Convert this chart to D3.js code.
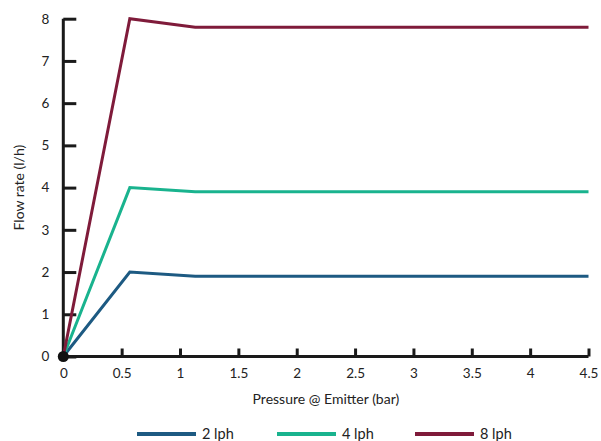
<!DOCTYPE html>
<html><head><meta charset="utf-8">
<script src="https://cdn.jsdelivr.net/npm/d3@7"></script>
<style>body{margin:0;background:#fff;} text{font-family:Lato,"Open Sans",sans-serif;fill:#222;}</style>
</head><body><svg id="c" width="601" height="441"></svg>
<script>
const pressure = [0, 0.57, 1.13, 4.5];
const series = [
  {name: "2 lph", values: [0, 2, 1.9, 1.9], color: "#1d5a82"},
  {name: "4 lph", values: [0, 4, 3.9, 3.9], color: "#19b38e"},
  {name: "8 lph", values: [0, 8, 7.8, 7.8], color: "#7f1b3a"}
];
const xTicks = [0, 0.5, 1, 1.5, 2, 2.5, 3, 3.5, 4, 4.5];
const yTicks = [0, 1, 2, 3, 4, 5, 6, 7, 8];

const svg = d3.select("#c");
const x = d3.scaleLinear().domain([0, 4.5]).range([63.3, 588.5]);
const y = d3.scaleLinear().domain([0, 8]).range([356.5, 18.7]);

const xa = svg.append("g").attr("transform", `translate(0,${y(0)})`)
  .call(d3.axisBottom(x).tickValues(xTicks).tickFormat(d => d).tickSizeInner(-8).tickSizeOuter(0).tickPadding(17));
const ya = svg.append("g").attr("transform", `translate(${x(0)},0)`)
  .call(d3.axisLeft(y).tickValues(yTicks).tickFormat(d => d).tickSizeInner(-13).tickSizeOuter(0).tickPadding(14));
[xa, ya].forEach(a => {
  a.select(".domain").attr("stroke", "#1a1a1a").attr("stroke-width", 3);
  a.selectAll(".tick line").attr("stroke", "#1a1a1a").attr("stroke-width", 3);
  a.selectAll(".tick text").attr("font-size", 13.5).attr("fill", "#222").style("font-family", "Lato, 'Open Sans', sans-serif");
});
xa.select(".domain").attr("d", `M${x(0)},0H${x(4.5)}`);
ya.select(".domain").attr("d", `M0,${y(0)}V${y(8)}`);
xa.selectAll(".tick text").attr("dy", "0.32em").attr("y", 17);

const line = d3.line().x((d, i) => x(pressure[i])).y(d => y(d));
series.forEach(s => {
  svg.append("path").datum(s.values).attr("d", line).attr("fill", "none")
    .attr("stroke", s.color).attr("stroke-width", 3).attr("stroke-linejoin", "miter");
});
svg.append("circle").attr("cx", x(0)).attr("cy", y(0)).attr("r", 5.5).attr("fill", "#111");

svg.append("text").attr("x", (x(0) + x(4.5)) / 2).attr("y", 404).attr("text-anchor", "middle")
  .attr("font-size", 14).text("Pressure @ Emitter (bar)");
svg.append("text").attr("transform", `translate(24,${y(4)}) rotate(-90)`).attr("text-anchor", "middle")
  .attr("font-size", 14).text("Flow rate (l/h)");

const legX = [137, 277, 415];
series.forEach((s, i) => {
  const g = svg.append("g").attr("transform", `translate(${legX[i]},434)`);
  g.append("line").attr("x1", 0).attr("x2", 59).attr("y1", 0).attr("y2", 0).attr("stroke", s.color).attr("stroke-width", 4);
  g.append("text").attr("x", 65).attr("y", 0).attr("dy", "0.35em").attr("font-size", 14.5).text(s.name);
});
</script></body></html>
